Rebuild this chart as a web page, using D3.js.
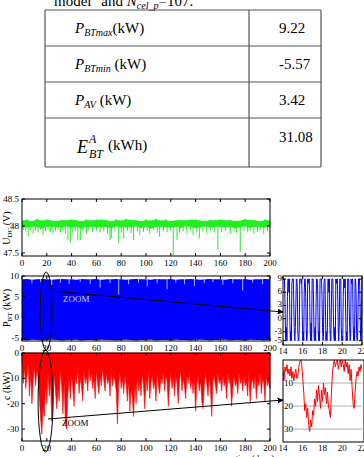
<!DOCTYPE html>
<html><head><meta charset="utf-8">
<script src="https://d3js.org/d3.v7.min.js"></script>
<style>body{margin:0;background:#fff}svg{display:block}text{font-family:"Liberation Serif","Times New Roman",serif}</style>
</head><body>
<script>
// ---------- DATA ----------
const tableRows = [
  {name:"P", sub:"BTmax", unit:"(kW)", value:"9.22"},
  {name:"P", sub:"BTmin", unit:" (kW)", value:"-5.57"},
  {name:"P", sub:"AV", unit:" (kW)", value:"3.42"}
];
const energyValue = "31.08";
const dayTicks = [0,20,40,60,80,100,120,140,160,180,200];
const udcTicks = [47.5,48,48.5];
const pbtTicks = [-5,0,5,10];
const pcTicks = [-30,-20,-10,0];
const zoomDayTicks = [14,16,18,20,22];
const zoomPbtTicks = [-5,-3,0,3,6,9];
const zoomPcTicks = [-30,-20,-10];

// U_DC band (every 4 days) and dips [day, min]
const udcUpper = [48.10,48.11,48.09,48.12,48.10,48.11,48.10,48.09,48.11,48.10,48.12,48.10,48.09,48.11,48.10,48.11,48.12,48.10,48.09,48.11,48.10,48.12,48.11,48.10,48.09,48.11,48.10,48.12,48.10,48.11,48.09,48.10,48.11,48.10,48.12,48.11,48.10,48.09,48.11,48.10,48.12,48.10,48.11,48.09,48.10,48.12,48.11,48.10,48.09,48.11,48.10];
const udcLower = [47.98,47.97,47.99,47.98,47.96,47.98,47.99,47.97,47.98,47.99,47.97,47.98,47.96,47.98,47.99,47.97,47.98,47.98,47.96,47.99,47.98,47.97,47.98,47.99,47.97,47.98,47.96,47.98,47.99,47.97,47.98,47.98,47.97,47.99,47.98,47.96,47.98,47.99,47.97,47.98,47.99,47.97,47.98,47.96,47.98,47.99,47.97,47.98,47.98,47.97,47.99];
const udcDips = [[1,47.93],[3,47.90],[5,47.80],[7,47.92],[9,47.86],[11,47.91],[13,47.88],[15,47.93],[17,47.83],[19,47.90],[21,47.92],[23,47.89],[25,47.86],[27,47.91],[29,47.93],[31,47.88],[33,47.90],[35,47.85],[37,47.74],[39,47.69],[41,47.88],[43,47.91],[45,47.73],[47,47.74],[49,47.90],[52,47.86],[54,47.92],[57,47.89],[60,47.91],[63,47.88],[66,47.90],[69,47.85],[71,47.74],[72,47.77],[75,47.90],[78,47.68],[80,47.88],[82,47.77],[85,47.91],[88,47.87],[90,47.74],[93,47.90],[95,47.83],[98,47.89],[101,47.91],[103,47.86],[106,47.92],[109,47.88],[111,47.80],[114,47.90],[117,47.88],[120,47.91],[122,47.46],[125,47.74],[127,47.87],[130,47.90],[133,47.86],[136,47.91],[138,47.83],[141,47.89],[143,47.77],[146,47.90],[149,47.87],[152,47.91],[155,47.88],[158,47.56],[161,47.89],[164,47.91],[168,47.86],[171,47.90],[173,47.88],[176,47.52],[179,47.90],[182,47.88],[184,47.91],[187,47.86],[190,47.89],[192,47.91],[195,47.85],[198,47.90]];

// P_BT envelope (every 4 days) and white gaps [day, lowest value of gap]
const pbtUpper = [9.2,9.3,9.1,9.2,9.3,9.2,9.1,9.2,9.3,9.2,9.2,9.1,9.3,9.2,9.2,9.3,9.1,9.2,9.2,9.3,9.2,9.1,9.2,9.3,9.2,9.2,9.1,9.3,9.2,9.2,9.3,9.1,9.2,9.2,9.3,9.2,9.1,9.2,9.3,9.2,9.2,9.1,9.3,9.2,9.2,9.3,9.1,9.2,9.2,9.3,9.2];
const pbtLower = [-5.5,-5.6,-5.4,-5.5,-5.6,-5.5,-5.4,-5.5,-5.6,-5.5,-5.5,-5.4,-5.6,-5.5,-5.5,-5.6,-5.4,-5.5,-5.5,-5.6,-5.5,-5.4,-5.5,-5.6,-5.5,-5.5,-5.4,-5.6,-5.5,-5.5,-5.6,-5.4,-5.5,-5.5,-5.6,-5.5,-5.4,-5.5,-5.6,-5.5,-5.5,-5.4,-5.6,-5.5,-5.5,-5.6,-5.4,-5.5,-5.5,-5.6,-5.5];
const pbtGaps = [[8,8.2],[15,8.5],[24,7.8],[31,8.4],[38,8.0],[47,8.6],[55,8.1],[63,7.2],[71,8.3],[78,5.5],[86,8.0],[94,8.4],[101,7.5],[109,8.2],[117,6.8],[124,8.4],[131,8.0],[139,7.6],[147,8.3],[154,8.5],[162,7.9],[170,8.2],[178,6.5],[186,8.4],[194,8.0]];

// P_c daily values (kW)
const pcValues = [-3,-12,-6,-14,-9,-4,-17,-8,-20,-11,-5,-13,-7,-10,-18,-26,-32,-21,-25,-12,-20,-8,-17,-11,-27,-19,-9,-15,-22,-14,-19,-7,-13,-24,-11,-28,-30,-16,-10,-18,-8,-14,-21,-9,-12,-6,-16,-10,-13,-19,-7,-12,-9,-15,-6,-11,-8,-14,-10,-18,-7,-12,-16,-9,-13,-6,-11,-15,-8,-12,-10,-17,-7,-13,-9,-11,-15,-28,-12,-8,-14,-10,-16,-9,-12,-19,-11,-23,-14,-18,-25,-12,-20,-9,-15,-11,-17,-8,-13,-22,-10,-15,-7,-18,-12,-9,-14,-11,-19,-8,-13,-16,-10,-12,-7,-15,-9,-11,-21,-13,-8,-14,-10,-17,-9,-12,-20,-11,-7,-15,-10,-13,-18,-9,-12,-8,-14,-11,-16,-10,-23,-12,-9,-15,-11,-19,-22,-13,-8,-12,-17,-10,-14,-25,-11,-9,-13,-16,-8,-12,-10,-15,-9,-13,-11,-18,-8,-12,-10,-21,-14,-9,-13,-11,-16,-8,-12,-10,-15,-9,-13,-11,-17,-8,-20,-12,-10,-14,-9,-18,-11,-13,-8,-16,-10,-12,-19,-9,-13,-11,-14];

// zoom insets
// P_BT: days 14..22, step 0.05
const zoomPbt = [9,8.8,9,9,4,-3,-5,-2,-5,5, 9,9,6,9,-1,-5,-3,-5, 8,9,9,9,2,-4,-5,-2,3, 9,9,7,-3,-5,-5,-2, 9,9,9,8,9,1,-5,-3,-5,6, 9,9,5,-2,-5,-4, 9,8,9,9,6,-3,-5,-1,-5, 9,9,9,3,-4,-5,-2,-5,4, 9,9,8,-1,-5,-3,-5, 9,9,9,9,5,-2,-5,-4, 8,9,9,2,-5,-3,-5,-2, 9,9,6,9,-2,-5,-5,3, 9,9,9,1,-4,-5,-2,-5, 9,8,9,9,4,-3,-5,-1, 9,9,9,-2,-5,-4,-5,5, 9,9,7,9,0,-5,-3,-5, 9,9,9,3,-2,-5,-4, 9,8,9,9,-1,-5,-2,-5, 9,9,6,-3,-5,-5,2, 9,9,9,4,-4,-5,-2,9];
// P_c: days 14..22, step 0.1
const zoomPc = [-4,-9,-3,-5,-2,-6,-4,-7,-3,-8,-5,-9,-6,-4,-8,-7,-3,-1,0,-2,-8,-14,-22,-19,-25,-21,-28,-31,-26,-29,-22,-24,-17,-20,-13,-18,-11,-16,-21,-13,-18,-10,-15,-12,-19,-14,-20,-22,-25,-15,-6,-2,0,-3,-1,0,-4,-1,0,-3,0,-2,-5,0,-3,-1,-6,-2,-9,-4,-12,-19,-21,-14,-8,-5,-7,-3,-5,-2,-4];

// ---------- DRAW ----------
const W=364,H=457;
const svg=d3.select("body").append("svg").attr("width",W).attr("height",H);

// caption line (cut at top, as in the source page)
const cap=svg.append("text").attr("x",54).attr("y",6).attr("font-size",15);
cap.append("tspan").text('model" and ');
cap.append("tspan").attr("font-style","italic").text("N");
cap.append("tspan").attr("font-style","italic").attr("font-size",10).attr("dy",3).text("cel_p");
cap.append("tspan").attr("dy",-3).text("=107.");

// table
const tL=45,tR=321,tM=249, rowsY=[10,46,82,118,167];
const tg=svg.append("g").attr("stroke","#555").attr("stroke-width",1.2);
rowsY.forEach(y=>tg.append("line").attr("x1",tL).attr("x2",tR).attr("y1",y).attr("y2",y));
[tL,tM,tR].forEach(x=>tg.append("line").attr("x1",x).attr("x2",x).attr("y1",rowsY[0]).attr("y2",rowsY[4]));
tableRows.forEach((r,i)=>{
  const base=rowsY[i]+23;
  const t=svg.append("text").attr("x",75).attr("y",base).attr("font-size",15);
  t.append("tspan").attr("font-style","italic").text(r.name);
  t.append("tspan").attr("font-style","italic").attr("font-size",10).attr("dy",3).text(r.sub);
  t.append("tspan").attr("dy",-3).text(r.unit);
  svg.append("text").attr("x",279).attr("y",base).attr("font-size",15).text(r.value);
});
{
  svg.append("text").attr("x",77).attr("y",153).attr("font-size",18).attr("font-style","italic").text("E");
  svg.append("text").attr("x",89).attr("y",143).attr("font-size",12).attr("font-style","italic").text("A");
  svg.append("text").attr("x",89).attr("y",158).attr("font-size",12).attr("font-style","italic").text("BT");
  svg.append("text").attr("x",108).attr("y",150).attr("font-size",15).text("(kWh)");
  svg.append("text").attr("x",279).attr("y",142).attr("font-size",15).text(energyValue);
}

const x=d3.scaleLinear().domain([0,200]).range([22,270]);
const xz=d3.scaleLinear().domain([14,22]).range([283,362]);
const FS=9;

function frame(g,x0,x1,y0,y1){
  g.append("rect").attr("x",x0).attr("y",y0).attr("width",x1-x0).attr("height",y1-y0)
   .attr("fill","none").attr("stroke","#000").attr("stroke-width",1);
}
function ticksX(g,sc,vals,y0,y1,labY){
  vals.forEach(v=>{
    const px=sc(v);
    g.append("line").attr("x1",px).attr("x2",px).attr("y1",y1).attr("y2",y1-3).attr("stroke","#000");
    g.append("line").attr("x1",px).attr("x2",px).attr("y1",y0).attr("y2",y0+3).attr("stroke","#000");
    g.append("text").attr("x",px).attr("y",labY).attr("text-anchor","middle").attr("font-size",FS).text(v);
  });
}
function ticksY(g,sc,vals,x0,x1,labX,dy){
  vals.forEach(v=>{
    const py=sc(v);
    g.append("line").attr("x1",x0).attr("x2",x0+3).attr("y1",py).attr("y2",py).attr("stroke","#000");
    g.append("line").attr("x1",x1).attr("x2",x1-3).attr("y1",py).attr("y2",py).attr("stroke","#000");
    g.append("text").attr("x",labX).attr("y",py+(dy==null?3:dy)).attr("text-anchor","end").attr("font-size",FS).text(v);
  });
}
function ylabel(main,sub,unit,cx,cy){
  const t=svg.append("text").attr("transform",`translate(${cx},${cy}) rotate(-90)`).attr("text-anchor","middle").attr("font-size",10);
  t.append("tspan").text(main);
  if(sub){t.append("tspan").attr("font-size",7).attr("dy",2).text(sub);t.append("tspan").attr("dy",-2).text(unit);}
  else t.append("tspan").text(unit);
}

// ---- Plot 1: U_DC
{
  const y=d3.scaleLinear().domain([47.444,48.5]).range([256,199]);
  const g=svg.append("g");
  const days4=udcUpper.map((_,i)=>i*4);
  g.append("path").datum(days4).attr("fill","#22ee22")
   .attr("d",d3.area().x(d=>x(d)).y0((d,i)=>y(udcLower[i])).y1((d,i)=>y(udcUpper[i])));
  g.append("path").datum(days4).attr("fill","none").attr("stroke","#22ee22").attr("stroke-width",1)
   .attr("d",d3.line().x(d=>x(d)).y((d,i)=>y(i%2?udcUpper[i]+0.01:udcLower[i]-0.01)));
  g.selectAll(".dip").data(udcDips).join("line").attr("stroke","#22ee22").attr("stroke-width",1)
   .attr("x1",d=>x(d[0])).attr("x2",d=>x(d[0])).attr("y1",y(48.0)).attr("y2",d=>y(d[1]));
  frame(g,22,270,199,256);
  ticksX(g,x,dayTicks,199,256,266);
  ticksY(g,y,udcTicks,22,270,19);
  ylabel("U","DC"," (V)",10,228);
}

// ---- Plot 2: P_BT
{
  const y=d3.scaleLinear().domain([-5.73,10]).range([341,276]);
  const g=svg.append("g");
  const days4=pbtUpper.map((_,i)=>i*4);
  g.append("path").datum(days4).attr("fill","#0000ff")
   .attr("d",d3.area().x(d=>x(d)).y0((d,i)=>y(pbtLower[i])).y1((d,i)=>y(pbtUpper[i])));
  g.selectAll(".gap").data(pbtGaps).join("line").attr("stroke","#dfe4ff").attr("stroke-width",0.8)
   .attr("x1",d=>x(d[0])).attr("x2",d=>x(d[0])).attr("y1",y(9.3)).attr("y2",d=>y(d[1]));
  frame(g,22,270,276,341);
  ticksX(g,x,dayTicks,276,341,351);
  ticksY(g,y,pbtTicks,22,270,19);
  ylabel("P","BT"," (kW)",10,308);
  g.append("text").attr("x",63).attr("y",302).attr("font-size",9).attr("fill","#cfd6ff").text("ZOOM");
}

// ---- Plot 3: P_c
{
  const y=d3.scaleLinear().domain([-34.7,0]).range([441,353]);
  const g=svg.append("g");
  g.append("path").datum(pcValues).attr("fill","#ff0000").attr("stroke","#ff0000").attr("stroke-width",0.6)
   .attr("d",d3.area().x((d,i)=>x(i)).y0(y(0)).y1(d=>y(d)));
  frame(g,22,270,353,441);
  ticksX(g,x,dayTicks,353,441,451);
  ticksY(g,y,pcTicks,22,270,19);
  ylabel("c",null," (kW)",10,386);
  g.append("text").attr("x",62).attr("y",426).attr("font-size",9).attr("fill","#000").text("ZOOM");
  svg.append("text").attr("x",255).attr("y",461).attr("text-anchor","middle").attr("font-size",9).text("time(days)");
}

// ---- Inset 2: P_BT zoom
{
  const y=d3.scaleLinear().domain([-6,9.7]).range([345,276]);
  const g=svg.append("g");
  zoomPbtTicks.forEach(v=>g.append("line").attr("x1",283).attr("x2",362).attr("y1",y(v)).attr("y2",y(v)).attr("stroke","#bbb").attr("stroke-width",0.6));
  g.append("path").datum(zoomPbt).attr("fill","none").attr("stroke","#0000ff").attr("stroke-width",1)
   .attr("d",d3.line().x((d,i)=>xz(14+i*0.05)).y(d=>y(d)));
  frame(g,283,362,276,345);
  ticksX(g,xz,zoomDayTicks,276,345,354);
  ticksY(g,y,zoomPbtTicks,283,362,282,2);
}

// ---- Inset 3: P_c zoom
{
  const y=d3.scaleLinear().domain([-35.6,0]).range([442,360]);
  const g=svg.append("g");
  zoomPcTicks.forEach(v=>g.append("line").attr("x1",293).attr("x2",362).attr("y1",y(v)).attr("y2",y(v)).attr("stroke","#999").attr("stroke-width",0.8));
  g.append("clipPath").attr("id","c3").append("rect").attr("x",283).attr("y",360).attr("width",79).attr("height",82);
  g.append("path").datum(zoomPc).attr("fill","none").attr("stroke","#ff0000").attr("stroke-width",1).attr("clip-path","url(#c3)")
   .attr("d",d3.line().x((d,i)=>xz(14+i*0.1)).y(d=>y(d)));
  frame(g,283,364,360,442);
  zoomDayTicks.forEach(v=>g.append("text").attr("x",xz(v)).attr("y",451).attr("text-anchor","middle").attr("font-size",FS).text(v));
  zoomPcTicks.forEach(v=>g.append("text").attr("x",284).attr("y",y(v)+3).attr("font-size",FS).text(-v));
}

// ---- annotations: ellipses and arrows
svg.append("defs").append("marker").attr("id","ah").attr("viewBox","0 0 10 10").attr("refX",9).attr("refY",5)
  .attr("markerWidth",6).attr("markerHeight",6).attr("orient","auto")
  .append("path").attr("d","M0,0L10,5L0,10z").attr("fill","#000");
svg.append("ellipse").attr("cx",x(19.5)).attr("cy",311).attr("rx",6).attr("ry",39).attr("fill","none").attr("stroke","#000").attr("stroke-width",1);
svg.append("ellipse").attr("cx",x(19)).attr("cy",401).attr("rx",7.5).attr("ry",51).attr("fill","none").attr("stroke","#000").attr("stroke-width",1);
svg.append("line").attr("x1",52).attr("y1",291).attr("x2",283).attr("y2",312).attr("stroke","#000").attr("stroke-width",1).attr("marker-end","url(#ah)");
svg.append("line").attr("x1",48).attr("y1",419).attr("x2",283).attr("y2",400).attr("stroke","#000").attr("stroke-width",1).attr("marker-end","url(#ah)");
</script>
</body></html>
